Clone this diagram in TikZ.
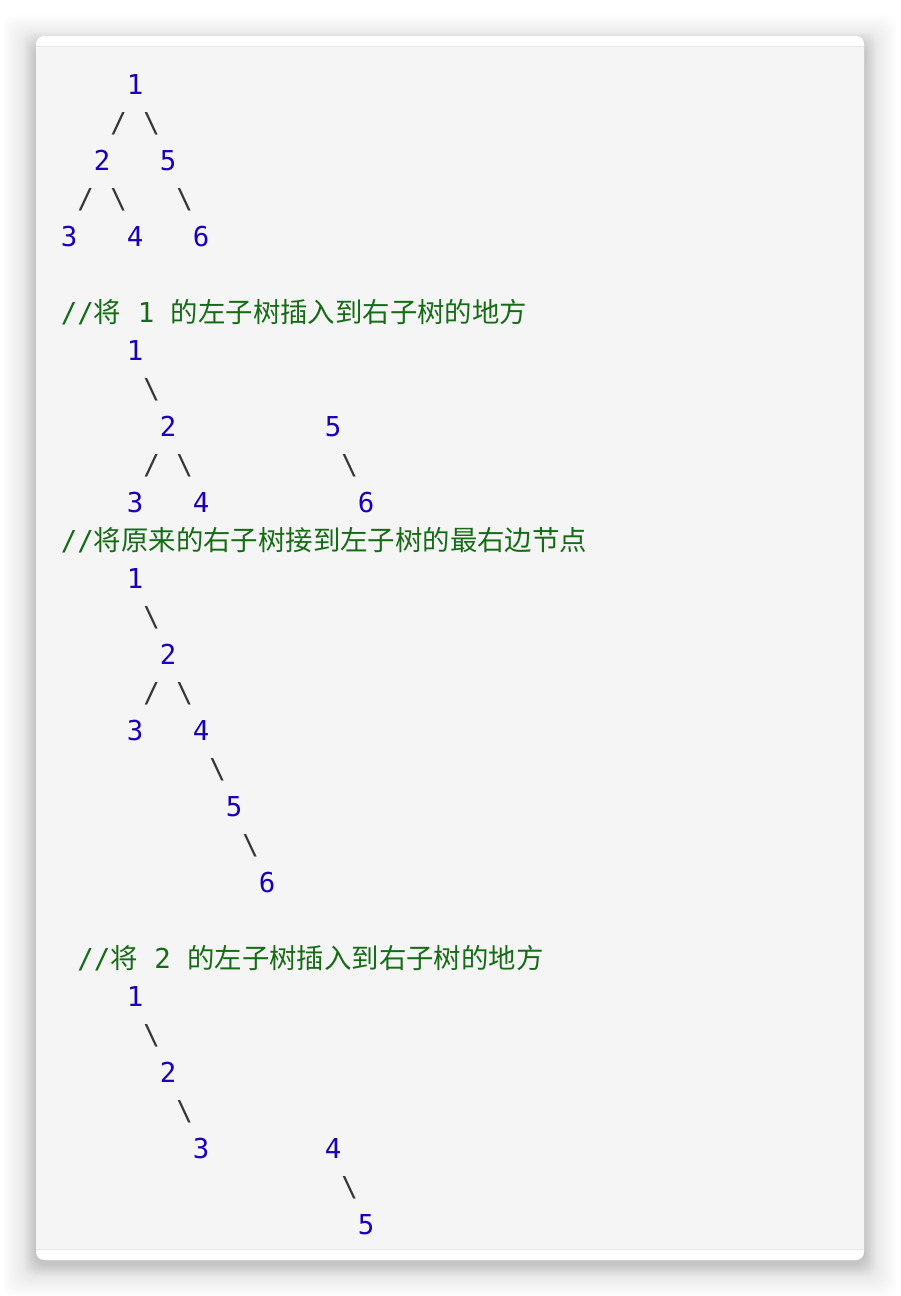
\documentclass[tikz,border=0pt]{standalone}
\usepackage{fontspec}
\newfontfamily\monofnt{DejaVu Sans Mono}
\newfontfamily\cjkfnt{Noto Sans CJK SC}
\definecolor{numblue}{RGB}{28,0,185}
\definecolor{cmtgreen}{RGB}{22,108,22}
\definecolor{slashgray}{RGB}{55,55,55}
\definecolor{codebg}{RGB}{245,245,245}
\definecolor{sepline}{RGB}{232,232,232}
\tikzset{
  num/.style={anchor=base,inner sep=0pt,text=numblue,font=\fontsize{27.4}{30}\monofnt},
  slashtok/.style={anchor=base,inner sep=0pt,text=slashgray,font=\fontsize{27.4}{30}\monofnt},
  cmt/.style={anchor=base west,inner sep=0pt,text=cmtgreen,font=\fontsize{27.4}{30}\monofnt},
}
\newcommand{\zh}[1]{{\cjkfnt #1}}
\newcommand{\bs}{\textbackslash}
\begin{document}
\begin{tikzpicture}[x=1pt,y=-1pt]
\useasboundingbox (0,0) rectangle (900,1296);
\fill[white] (0,0) rectangle (900,1296);
% shadow
\foreach \i in {1,...,34}{
  \fill[black,opacity=0.0045,rounded corners=14pt] (36-\i,36-\i+12) rectangle (864+\i,1260+\i+4);
}
\foreach \i in {1,...,12}{
  \fill[black,opacity=0.006,rounded corners=10pt] (36-\i,36-\i+8) rectangle (864+\i,1260+\i+4);
}
% card
\fill[white,rounded corners=8pt] (36,36) rectangle (864,1260);
\fill[codebg] (36,47) rectangle (864,1249);
\draw[sepline,line width=1pt] (36,46.5) -- (864,46.5);
\draw[sepline,line width=1pt] (36,1249.5) -- (864,1249.5);
\begin{scope}[shift={(69,94)},x=16.5pt,y=-38pt]
% tree A
\node[num] (a1) at (4,0) {1};
\node[slashtok] (a12) at (3,1) {/};
\node[slashtok] (a15) at (5,1) {\bs};
\node[num] (a2) at (2,2) {2};
\node[num] (a5) at (6,2) {5};
\node[slashtok] (a23) at (1,3) {/};
\node[slashtok] (a24) at (3,3) {\bs};
\node[slashtok] (a56) at (7,3) {\bs};
\node[num] (a3) at (0,4) {3};
\node[num] (a4) at (4,4) {4};
\node[num] (a6) at (8,4) {6};
% comment 1
\node[cmt] (c1) at (-0.5,6) {//\zh{将} 1 \zh{的左子树插入到右子树的地方}};
% tree B
\node[num] (b1) at (4,7) {1};
\node[slashtok] (b12) at (5,8) {\bs};
\node[num] (b2) at (6,9) {2};
\node[num] (b5) at (16,9) {5};
\node[slashtok] (b23) at (5,10) {/};
\node[slashtok] (b24) at (7,10) {\bs};
\node[slashtok] (b56) at (17,10) {\bs};
\node[num] (b3) at (4,11) {3};
\node[num] (b4) at (8,11) {4};
\node[num] (b6) at (18,11) {6};
% comment 2
\node[cmt] (c2) at (-0.5,12) {//\zh{将原来的右子树接到左子树的最右边节点}};
% tree C
\node[num] (d1) at (4,13) {1};
\node[slashtok] (d12) at (5,14) {\bs};
\node[num] (d2) at (6,15) {2};
\node[slashtok] (d23) at (5,16) {/};
\node[slashtok] (d24) at (7,16) {\bs};
\node[num] (d3) at (4,17) {3};
\node[num] (d4) at (8,17) {4};
\node[slashtok] (d45) at (9,18) {\bs};
\node[num] (d5) at (10,19) {5};
\node[slashtok] (d56) at (11,20) {\bs};
\node[num] (d6) at (12,21) {6};
% comment 3
\node[cmt] (c3) at (0.5,23) {//\zh{将} 2 \zh{的左子树插入到右子树的地方}};
% tree D
\node[num] (e1) at (4,24) {1};
\node[slashtok] (e12) at (5,25) {\bs};
\node[num] (e2) at (6,26) {2};
\node[slashtok] (e23) at (7,27) {\bs};
\node[num] (e3) at (8,28) {3};
\node[num] (e4) at (16,28) {4};
\node[slashtok] (e45) at (17,29) {\bs};
\node[num] (e5) at (18,30) {5};
\end{scope}
\end{tikzpicture}
\end{document}
